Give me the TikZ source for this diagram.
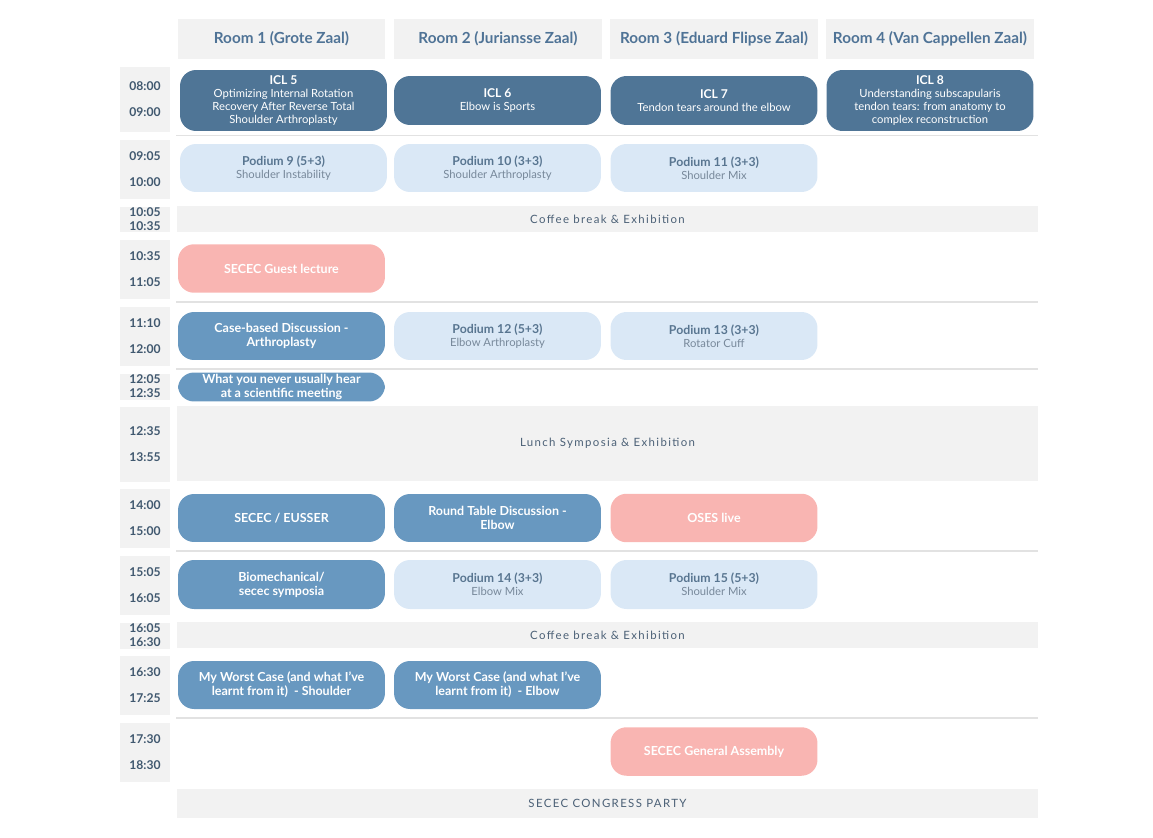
\documentclass[tikz,border=0pt]{standalone}
\usepackage{fontspec}
\setmainfont{Lato}
\usepackage{tikz}
\usetikzlibrary{positioning}
\definecolor{scGrey}{HTML}{F2F2F2}
\definecolor{scHead}{HTML}{4F7396}
\definecolor{scTime}{HTML}{40586F}
\definecolor{scIcl}{HTML}{4F7596}
\definecolor{scMid}{HTML}{6898C0}
\definecolor{scLight}{HTML}{DAE8F6}
\definecolor{scPink}{HTML}{F9B5B2}
\definecolor{scPodTitle}{HTML}{587590}
\definecolor{scPodSub}{HTML}{77889A}
\definecolor{scBand}{HTML}{4B6076}
\definecolor{scSep}{HTML}{E2E2E2}
\newcommand{\subline}[1]{{\mdseries\fontsize{6.4}{7.6}\selectfont\color{scPodSub}#1}}

\begin{document}
\begin{tikzpicture}[x=0.02cm, y=-0.02cm,
  roomhead/.style={fill=scGrey, text=scHead, minimum width=4.16cm, minimum height=0.8cm,
    font=\bfseries\fontsize{8.7}{9.6}\selectfont},
  timebox/.style={fill=scGrey, text=scTime, minimum width=1cm, align=center, inner sep=0pt,
    font=\bfseries\fontsize{6.9}{7.8}\selectfont},
  shorttime/.style={timebox, minimum height=0.52cm, font=\bfseries\fontsize{6.9}{7.9}\selectfont},
  session/.style={rounded corners=0.32cm, minimum width=4.14cm, align=center, inner sep=1pt,
    font=\fontsize{6.4}{7.4}\selectfont},
  icl/.style={session, fill=scIcl, text=white},
  discus/.style={session, fill=scMid, text=white, font=\bfseries\fontsize{7.1}{8}\selectfont},
  podium/.style={session, fill=scLight, text=scPodTitle, minimum height=0.96cm,
    font=\bfseries\fontsize{7}{7.6}\selectfont},
  guest/.style={session, fill=scPink, text=white, minimum height=0.97cm,
    font=\bfseries\fontsize{7.1}{8}\selectfont},
  band/.style={fill=scGrey, text=scBand, minimum width=17.22cm,
    font=\fontsize{6.5}{7}\selectfont\addfontfeatures{LetterSpace=12}},
  sepline/.style={draw=scSep, line width=0.8pt}
]
  \useasboundingbox (0,0) rectangle (1153,838);

  % room headers
  \node[roomhead] (room1) at (281.5,39) {Room 1 (Grote Zaal)};
  \node[roomhead] (room2) at (498,39) {Room 2 (Juriansse Zaal)};
  \node[roomhead] (room3) at (714,39) {Room 3 (Eduard Flipse Zaal)};
  \node[roomhead] (room4) at (930,39) {Room 4 (Van Cappellen Zaal)};

  % time slots
  \node[timebox, minimum height=1.3cm] (t0800) at (145,99.5) {08:00\\[7pt]09:00};
  \node[timebox, minimum height=1.18cm] (t0905) at (145,169.5) {09:05\\[7pt]10:00};
  \node[shorttime] (t1005) at (145,219.5) {10:05\\10:35};
  \node[timebox, minimum height=1.18cm] (t1035) at (145,269.5) {10:35\\[7pt]11:05};
  \node[timebox, minimum height=1.18cm] (t1110) at (145,336.5) {11:10\\[7pt]12:00};
  \node[shorttime] (t1205) at (145,386.5) {12:05\\12:35};
  \node[timebox, minimum height=1.5cm] (t1235) at (145,444.5) {12:35\\[7pt]13:55};
  \node[timebox, minimum height=1.18cm] (t1400) at (145,518.5) {14:00\\[7pt]15:00};
  \node[timebox, minimum height=1.18cm] (t1505) at (145,585.5) {15:05\\[7pt]16:05};
  \node[shorttime] (t1605) at (145,635.5) {16:05\\16:30};
  \node[timebox, minimum height=1.18cm] (t1630) at (145,685.5) {16:30\\[7pt]17:25};
  \node[timebox, minimum height=1.18cm] (t1730) at (145,752.5) {17:30\\[7pt]18:30};

  % row separators
  \draw[sepline] (176,135.7) -- (1038,135.7);
  \draw[sepline] (176,302) -- (1038,302);
  \draw[sepline] (176,369) -- (1038,369);
  \draw[sepline] (176,551) -- (1038,551);
  \draw[sepline] (176,718) -- (1038,718);

  % 08:00
  \node[icl, minimum height=1.22cm] (icl5) at (283.5,100.5) {
    {\bfseries\fontsize{6.9}{7.4}\selectfont ICL 5}\\
    Optimizing Internal Rotation\\
    Recovery After Reverse Total\\
    Shoulder Arthroplasty
  };
  \node[icl, minimum height=0.98cm] (icl6) at (497.5,100.5) {
    {\bfseries\fontsize{6.9}{7.4}\selectfont ICL 6}\\
    Elbow is Sports
  };
  \node[icl, minimum height=0.98cm] (icl7) at (714,100.5) {
    {\bfseries\fontsize{6.9}{7.4}\selectfont ICL 7}\\
    Tendon tears around the elbow
  };
  \node[icl, minimum height=1.22cm] (icl8) at (930,100.5) {
    {\bfseries\fontsize{6.9}{7.4}\selectfont ICL 8}\\
    Understanding subscapularis\\
    tendon tears: from anatomy to\\
    complex reconstruction
  };

  % 09:05
  \node[podium] (pod9) at (283.5,168) {Podium 9 (5+3)\\ \subline{Shoulder Instability}};
  \node[podium] (pod10) at (497.5,168) {Podium 10 (3+3)\\ \subline{Shoulder Arthroplasty}};
  \node[podium] (pod11) at (714,168) {Podium 11 (3+3)\\ \subline{Shoulder Mix}};

  \node[band, minimum height=0.52cm] (coffee1) at (607.5,219) {Coffee break \& Exhibition};

  % 10:35
  \node[guest] (guestlec) at (281.5,268.5) {SECEC Guest lecture};

  % 11:10
  \node[discus, minimum height=0.96cm] (casebased) at (281.5,336) {Case-based Discussion -\\ Arthroplasty};
  \node[podium] (pod12) at (497.5,336) {Podium 12 (5+3)\\ \subline{Elbow Arthroplasty}};
  \node[podium] (pod13) at (714,336) {Podium 13 (3+3)\\ \subline{Rotator Cuff}};

  % 12:05
  \node[discus, minimum height=0.58cm, font=\bfseries\fontsize{7.1}{6.3}\selectfont] (neverhear) at (281.5,387)
    {What you never usually hear\\ at a scientific meeting};

  \node[band, minimum height=1.5cm] (lunch) at (607.5,443.5) {Lunch Symposia \& Exhibition};

  % 14:00
  \node[discus, minimum height=0.96cm] (eusser) at (281.5,518) {SECEC / EUSSER};
  \node[discus, minimum height=0.96cm] (roundtable) at (497.5,518) {Round Table Discussion -\\ Elbow};
  \node[guest] (oses) at (714,518) {OSES live};

  % 15:05
  \node[discus, minimum height=0.98cm] (biomech) at (281.5,584.5) {Biomechanical/\\ secec symposia};
  \node[podium, minimum height=0.98cm] (pod14) at (497.5,584.5) {Podium 14 (3+3)\\ \subline{Elbow Mix}};
  \node[podium, minimum height=0.98cm] (pod15) at (714,584.5) {Podium 15 (5+3)\\ \subline{Shoulder Mix}};

  \node[band, minimum height=0.52cm] (coffee2) at (607.5,635) {Coffee break \& Exhibition};

  % 16:30
  \node[discus, minimum height=0.96cm] (worstsh) at (281.5,685) {My Worst Case (and what I’ve\\ learnt from it)\ \ - Shoulder};
  \node[discus, minimum height=0.96cm] (worstel) at (497.5,685) {My Worst Case (and what I’ve\\ learnt from it)\ \ - Elbow};

  % 17:30
  \node[guest] (assembly) at (714,751.5) {SECEC General Assembly};

  \node[band, minimum height=0.58cm] (party) at (607.5,803.5) {SECEC CONGRESS PARTY};
\end{tikzpicture}
\end{document}
